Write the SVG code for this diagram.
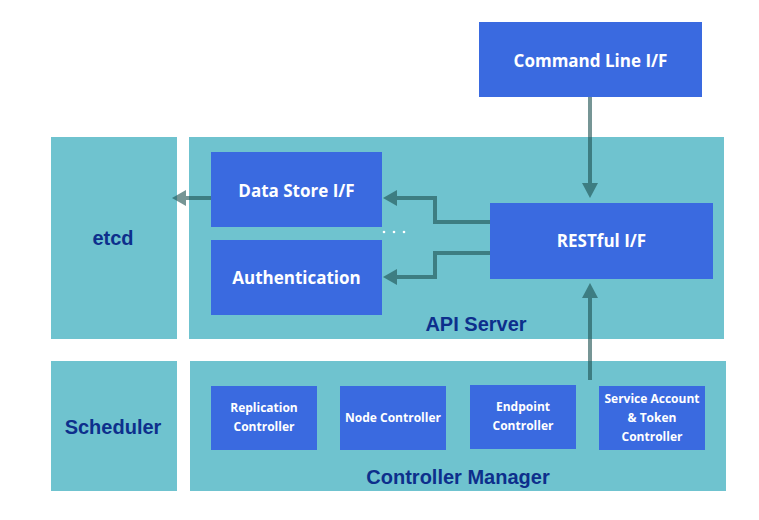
<svg xmlns="http://www.w3.org/2000/svg" width="759" height="520" viewBox="0 0 759 520">
<style>
.pane{fill:#6fc3cf}
.box{fill:#3a6ae0}
.wt{font-family:"Open Sans","DejaVu Sans",sans-serif;font-weight:bold;fill:#ffffff;text-anchor:middle}
.dk{font-family:"Liberation Sans",Arial,sans-serif;font-weight:bold;fill:#0d2f8c;text-anchor:middle;font-size:20px}
.ln{fill:none;stroke:#1c5050;stroke-width:4}
.hd{fill:#1c5050}
</style>
<rect width="759" height="520" fill="#ffffff"/>
<g id="etcd"><rect class="pane" x="51" y="137" width="126" height="202"/><text class="dk" x="113" y="245">etcd</text></g>
<g id="api-server"><rect class="pane" x="189" y="137" width="535" height="202"/><text class="dk" x="476" y="331">API Server</text></g>
<g id="scheduler"><rect class="pane" x="51" y="361" width="126" height="130"/><text class="dk" x="113" y="434">Scheduler</text></g>
<g id="controller-manager"><rect class="pane" x="190" y="361" width="536" height="130"/><text class="dk" x="458" y="484">Controller Manager</text></g>
<g id="command-line"><rect class="box" x="479" y="22" width="223" height="75"/><text class="wt" x="590.5" y="67" font-size="17">Command Line I/F</text></g>
<g id="data-store"><rect class="box" x="211" y="152" width="171" height="75"/><text class="wt" x="296.5" y="197" font-size="17">Data Store I/F</text></g>
<g id="authentication"><rect class="box" x="211" y="240" width="171" height="75"/><text class="wt" x="296.5" y="284" font-size="17">Authentication</text></g>
<g id="restful"><rect class="box" x="490" y="203" width="223" height="76"/><text class="wt" x="601.5" y="247" font-size="17">RESTful I/F</text></g>
<g id="replication"><rect class="box" x="211" y="386" width="106" height="64"/><text class="wt" x="264" y="412" font-size="12">Replication</text><text class="wt" x="264" y="431" font-size="12">Controller</text></g>
<g id="node-controller"><rect class="box" x="340" y="386" width="106" height="64"/><text class="wt" x="393" y="422" font-size="12">Node Controller</text></g>
<g id="endpoint"><rect class="box" x="470" y="385" width="106" height="64"/><text class="wt" x="523" y="411" font-size="12">Endpoint</text><text class="wt" x="523" y="430" font-size="12">Controller</text></g>
<g id="service-account"><rect class="box" x="599" y="386" width="106" height="64"/><text class="wt" x="652" y="403" font-size="12">Service Account</text><text class="wt" x="652" y="422" font-size="12">&amp; Token</text><text class="wt" x="652" y="441" font-size="12">Controller</text></g>
<g id="dots" fill="#ffffff"><circle cx="384" cy="232" r="1.3"/><circle cx="394" cy="232" r="1.3"/><circle cx="404" cy="232" r="1.3"/></g>
<g id="connectors" opacity="0.6">
<path class="ln" d="M590 97V184"/><polygon class="hd" points="582,183 598,183 590,198"/>
<path class="ln" d="M590 380V297"/><polygon class="hd" points="582,298 598,298 590,283"/>
<path class="ln" d="M490 222H435V198H396"/><polygon class="hd" points="397,190 397,206 383,198"/>
<path class="ln" d="M490 253H435V277H396"/><polygon class="hd" points="397,269 397,285 383,277"/>
<path class="ln" d="M211 198H185"/><polygon class="hd" points="186,190 186,206 172,198"/>
</g>
</svg>
